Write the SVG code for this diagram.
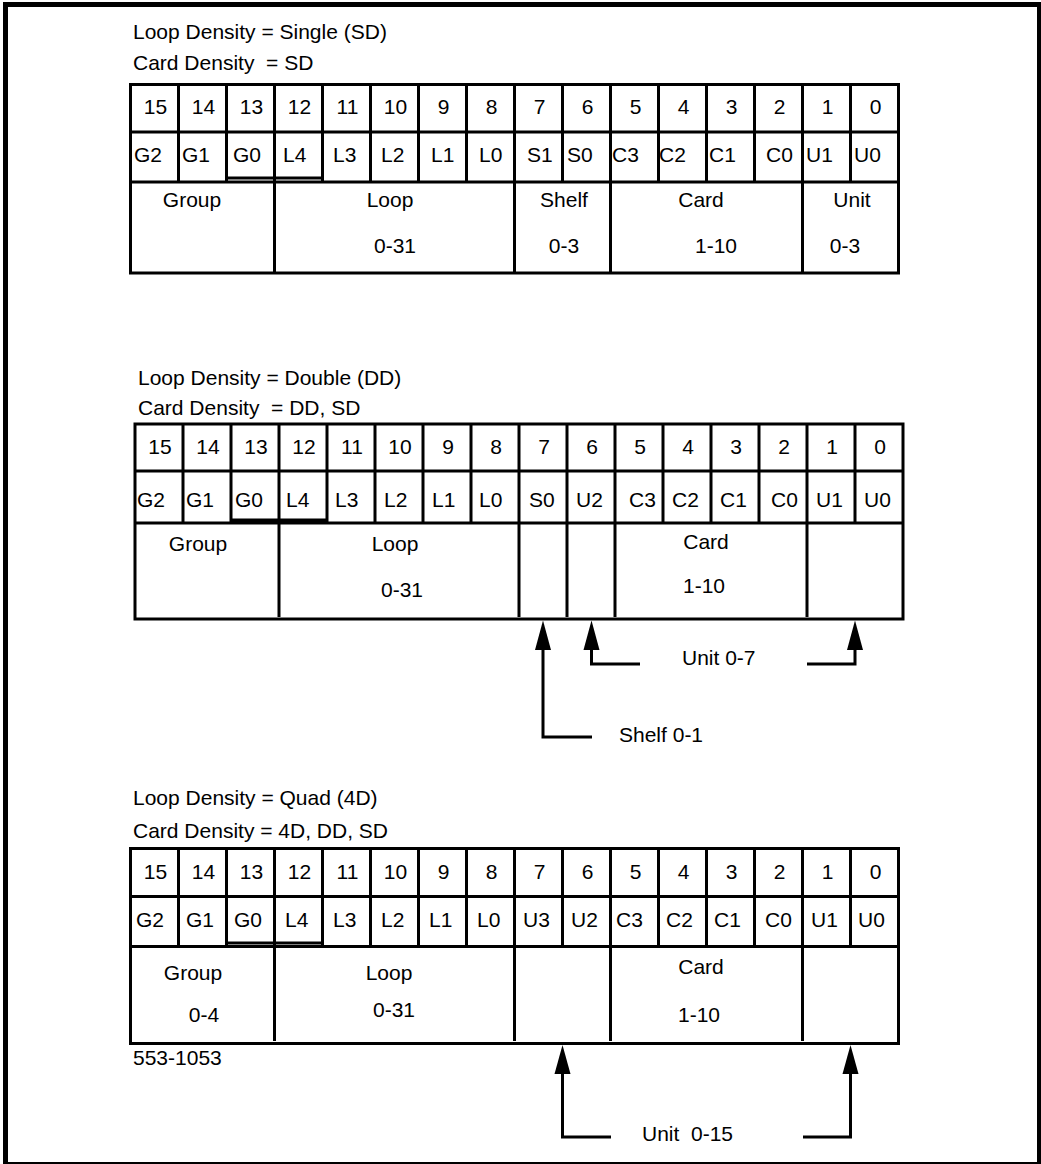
<svg xmlns="http://www.w3.org/2000/svg" width="1041" height="1164" viewBox="0 0 1041 1164">
<style>
.ln{stroke:#000;stroke-width:3;fill:none}
.tx{font-family:"Liberation Sans",Arial,Helvetica,sans-serif;font-size:21px;fill:#000}
.c{text-anchor:middle}
.ah{fill:#000;stroke:none}
</style>
<rect width="1041" height="1164" fill="#fff"/>
<path d="M3 2H1041V1164H3Z M8 7V1162H1037V7Z" fill="#000" fill-rule="evenodd"/>

<g id="table-sd">
<text class="tx" x="133" y="39">Loop Density = Single (SD)</text>
<text class="tx" x="133" y="70">Card Density&#160; = SD</text>
<rect class="ln" x="130.5" y="84.5" width="768" height="188.5"/>
<path class="ln" d="M130.5 132H898.5M130.5 182H898.5M226.5 178H322.5
M178.5 84.5V182M226.5 84.5V182M274.5 84.5V182M322.5 84.5V182M370.5 84.5V182M418.5 84.5V182M466.5 84.5V182M514.5 84.5V182M562.5 84.5V182M610.5 84.5V182M658.5 84.5V182M706.5 84.5V182M754.5 84.5V182M802.5 84.5V182M850.5 84.5V182
M274.5 182V272M514.5 182V272M610.5 182V272M802.5 182V272"/>
<g class="tx c">
<text x="155.5" y="114">15</text><text x="203.5" y="114">14</text><text x="251.5" y="114">13</text><text x="299.5" y="114">12</text><text x="347.5" y="114">11</text><text x="395.5" y="114">10</text><text x="443.5" y="114">9</text><text x="491.5" y="114">8</text><text x="539.5" y="114">7</text><text x="587.5" y="114">6</text><text x="635.5" y="114">5</text><text x="683.5" y="114">4</text><text x="731.5" y="114">3</text><text x="779.5" y="114">2</text><text x="827.5" y="114">1</text><text x="875.5" y="114">0</text>
</g>
<g class="tx">
<text x="134" y="162">G2</text><text x="182" y="162">G1</text><text x="233" y="162">G0</text><text x="283" y="162">L4</text><text x="333" y="162">L3</text><text x="381" y="162">L2</text><text x="431" y="162">L1</text><text x="479" y="162">L0</text><text x="527" y="162">S1</text><text x="567" y="162">S0</text><text x="612" y="162">C3</text><text x="659" y="162">C2</text><text x="709" y="162">C1</text><text x="766" y="162">C0</text><text x="806" y="162">U1</text><text x="854" y="162">U0</text>
</g>
<g class="tx c">
<text x="192" y="207">Group</text><text x="390" y="207">Loop</text><text x="564" y="207">Shelf</text><text x="701" y="207">Card</text><text x="852" y="207">Unit</text>
<text x="395" y="253">0-31</text><text x="564" y="253">0-3</text><text x="716" y="253">1-10</text><text x="845" y="253">0-3</text>
</g>
</g>

<g id="table-dd">
<text class="tx" x="138" y="385">Loop Density = Double (DD)</text>
<text class="tx" x="138" y="415">Card Density&#160; = DD, SD</text>
<rect class="ln" x="135" y="424" width="768" height="195"/>
<path class="ln" d="M135 471H903M135 523H903M231 520H327
M183 424V523M231 424V523M279 424V523M327 424V523M375 424V523M423 424V523M471 424V523M519 424V523M567 424V523M615 424V523M663 424V523M711 424V523M759 424V523M807 424V523M855 424V523
M279 523V617M519 523V617M567 523V617M615 523V617M807 523V617"/>
<g class="tx c">
<text x="160" y="454">15</text><text x="208" y="454">14</text><text x="256" y="454">13</text><text x="304" y="454">12</text><text x="352" y="454">11</text><text x="400" y="454">10</text><text x="448" y="454">9</text><text x="496" y="454">8</text><text x="544" y="454">7</text><text x="592" y="454">6</text><text x="640" y="454">5</text><text x="688" y="454">4</text><text x="736" y="454">3</text><text x="784" y="454">2</text><text x="832" y="454">1</text><text x="880" y="454">0</text>
</g>
<g class="tx">
<text x="137" y="507">G2</text><text x="186" y="507">G1</text><text x="235" y="507">G0</text><text x="286" y="507">L4</text><text x="335" y="507">L3</text><text x="384" y="507">L2</text><text x="432" y="507">L1</text><text x="479" y="507">L0</text><text x="529" y="507">S0</text><text x="576" y="507">U2</text><text x="629" y="507">C3</text><text x="672" y="507">C2</text><text x="720" y="507">C1</text><text x="771" y="507">C0</text><text x="816" y="507">U1</text><text x="864" y="507">U0</text>
</g>
<g class="tx c">
<text x="198" y="551">Group</text><text x="395" y="551">Loop</text><text x="402" y="597">0-31</text>
<text x="706" y="549">Card</text>
</g>
<text class="tx" x="683" y="593">1-10</text>
</g>

<g id="table-4d">
<text class="tx" x="133" y="805">Loop Density = Quad (4D)</text>
<text class="tx" x="133" y="838">Card Density = 4D, DD, SD</text>
<rect class="ln" x="130.5" y="848.5" width="768" height="195"/>
<path class="ln" d="M130.5 896.5H898.5M130.5 946.5H898.5M226.5 943H322.5
M178.5 848.5V946.5M226.5 848.5V946.5M274.5 848.5V946.5M322.5 848.5V946.5M370.5 848.5V946.5M418.5 848.5V946.5M466.5 848.5V946.5M514.5 848.5V946.5M562.5 848.5V946.5M610.5 848.5V946.5M658.5 848.5V946.5M706.5 848.5V946.5M754.5 848.5V946.5M802.5 848.5V946.5M850.5 848.5V946.5
M274.5 946.5V1041M514.5 946.5V1041M610.5 946.5V1041M802.5 946.5V1041"/>
<g class="tx c">
<text x="155.5" y="879">15</text><text x="203.5" y="879">14</text><text x="251.5" y="879">13</text><text x="299.5" y="879">12</text><text x="347.5" y="879">11</text><text x="395.5" y="879">10</text><text x="443.5" y="879">9</text><text x="491.5" y="879">8</text><text x="539.5" y="879">7</text><text x="587.5" y="879">6</text><text x="635.5" y="879">5</text><text x="683.5" y="879">4</text><text x="731.5" y="879">3</text><text x="779.5" y="879">2</text><text x="827.5" y="879">1</text><text x="875.5" y="879">0</text>
</g>
<g class="tx">
<text x="136" y="927">G2</text><text x="186" y="927">G1</text><text x="234" y="927">G0</text><text x="285" y="927">L4</text><text x="333" y="927">L3</text><text x="381" y="927">L2</text><text x="429" y="927">L1</text><text x="477" y="927">L0</text><text x="523" y="927">U3</text><text x="571" y="927">U2</text><text x="616" y="927">C3</text><text x="666" y="927">C2</text><text x="714" y="927">C1</text><text x="765" y="927">C0</text><text x="811" y="927">U1</text><text x="858" y="927">U0</text>
</g>
<g class="tx c">
<text x="193" y="980">Group</text><text x="204" y="1022">0-4</text><text x="389" y="980">Loop</text><text x="394" y="1017">0-31</text>
<text x="701" y="974">Card</text><text x="699" y="1022">1-10</text>
</g>
<text class="tx" x="133" y="1065">553-1053</text>
</g>

<g id="connectors">
<path class="ln" d="M543 640V737H592M591.5 640V664H640M807 664H855V640"/>
<polygon class="ah" points="543,620.5 535,650 551,650"/>
<polygon class="ah" points="591.5,620.5 583.5,650 599.5,650"/>
<polygon class="ah" points="855,620.5 847,650 863,650"/>
<path class="ln" d="M562.5 1065V1137H611M803 1137H850.5V1065"/>
<polygon class="ah" points="562.5,1045 554.5,1074 570.5,1074"/>
<polygon class="ah" points="850.5,1045 842.5,1074 858.5,1074"/>
</g>
<g id="connector-labels">
<text class="tx" x="619" y="742">Shelf 0-1</text>
<text class="tx" x="682" y="665">Unit 0-7</text>
<text class="tx" x="642" y="1141">Unit&#160; 0-15</text>
</g>
</svg>
